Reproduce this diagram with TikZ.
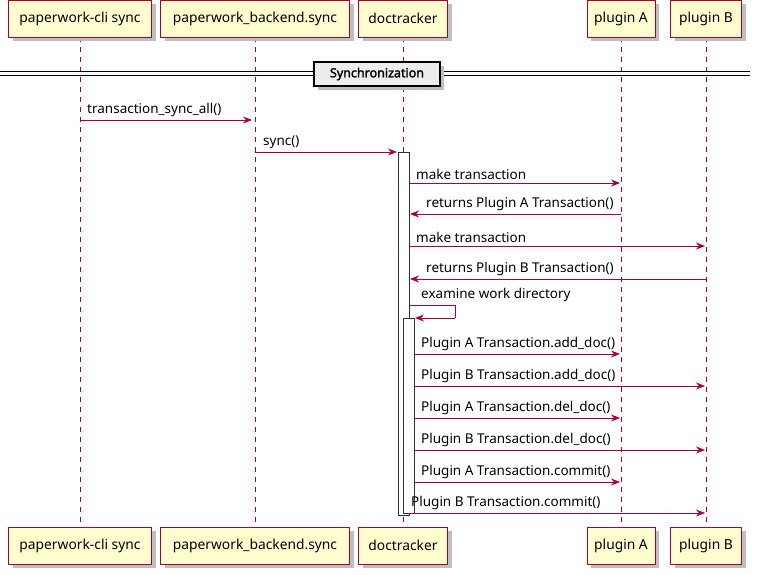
\documentclass[tikz,border=0pt]{standalone}
\usepackage{fontspec}
\setmainfont{Noto Sans}
\newfontfamily\boldf{Noto Sans}[FakeBold=2]
\usetikzlibrary{arrows.meta}
\definecolor{pfill}{HTML}{FEFECE}
\definecolor{pred}{HTML}{A80036}
\begin{document}
\begin{tikzpicture}[x=1pt,y=-1pt,
 every node/.style={font=\fontsize{13.8}{16}\selectfont},
 part/.style={draw=pred,fill=pfill,minimum height=37pt,inner sep=0pt,line width=0.9pt},
 shad/.style={fill=black!25,draw=none},
 life/.style={draw=pred,dash pattern=on 5pt off 5pt,line width=0.6pt},
 msg/.style={draw=pred,line width=0.8pt,-{Stealth[length=9pt,width=7pt]}},
 lbl/.style={anchor=south west,inner sep=1pt,font=\fontsize{13.5}{15}\selectfont},
 act/.style={draw=black!80,fill=white,line width=0.8pt}]
\useasboundingbox (0,0) rectangle (760,574);
\def\parts{a/80/143/paperwork-cli sync,b/255/189/paperwork\_backend.sync,c/403/89/doctracker,d/621/68/plugin A,e/706/71/plugin B}
\foreach \n/\x/\w/\t in \parts {
 \draw[life] (\x,37) -- (\x,527);
 \fill[shad] (\x-\w/2+4,4) rectangle (\x+\w/2+4,41);
 \node[part,minimum width=\w pt] (\n t) at (\x,18.5) {\t};
 \fill[shad] (\x-\w/2+4,531) rectangle (\x+\w/2+4,568);
 \node[part,minimum width=\w pt] (\n b) at (\x,545.5) {\t};
}
% divider
\draw[line width=0.8pt] (0,71) -- (750,71) (0,75) -- (750,75);
\fill[shad] (318,66) rectangle (444,90);
\node[draw=black,fill=black!7,line width=1.2pt,minimum width=126pt,minimum height=24pt,inner sep=0pt,font=\boldf\fontsize{12.5}{14}\selectfont] (sync) at (377,74) {Synchronization};
% activations
\draw[act] (398,152) rectangle (409,515);
\draw[act] (403,318) rectangle (414,513);
\draw[msg] (80,120) -- (252,120);
\node[lbl] (m1) at (86,118) {transaction\_sync\_all()};
\draw[msg] (255,152) -- (397,152); \node[lbl] (m2) at (262,150) {sync()};
\draw[msg] (409,183) -- (620,183); \node[lbl] (m3) at (415,181) {make transaction};
\draw[msg] (621,214) -- (410,214); \node[lbl] (m4) at (425,212) {returns Plugin A Transaction()};
\draw[msg] (409,246) -- (705,246); \node[lbl] (m5) at (415,244) {make transaction};
\draw[msg] (706,279) -- (410,279); \node[lbl] (m6) at (425,277) {returns Plugin B Transaction()};
\draw[draw=pred,line width=0.8pt] (409,305) -- (455,305) -- (455,318);
\draw[msg] (455,318) -- (415,318); \node[lbl] (m7) at (420,303) {examine work directory};
\foreach \y/\t/\x in {354/Plugin A Transaction.add\_doc()/620,386/Plugin B Transaction.add\_doc()/705,418/Plugin A Transaction.del\_doc()/620,450/Plugin B Transaction.del\_doc()/705,482/Plugin A Transaction.commit()/620}{
 \draw[msg] (414,\y) -- (\x,\y); \node[lbl] at (420,\y-2) {\t};}
\draw[msg] (409,513) -- (705,513); \node[lbl] (m8) at (410,511) {Plugin B Transaction.commit()};
\end{tikzpicture}
\end{document}
